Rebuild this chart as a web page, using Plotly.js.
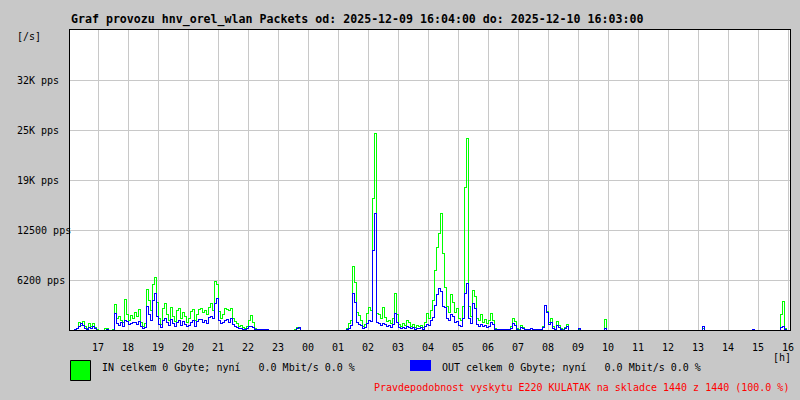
<!DOCTYPE html>
<html>
<head>
<meta charset="utf-8">
<script src="https://cdn.plot.ly/plotly-3.0.1.min.js"></script>
<style>
html,body{margin:0;padding:0;background:#c8c8c8;}
#chart{width:800px;height:400px;}
#chart .scatterlayer path{shape-rendering:crispEdges;}
#chart .gridlayer path{shape-rendering:crispEdges;}
</style>
</head>
<body>
<div id="chart"></div>
<script>
// Sampling: one value every 4 minutes starting 2025-12-09 16:04
const startTime = '2025-12-09T16:04:00Z';
const endTime = '2025-12-10T16:04:00Z';
const stepMinutes = 4;

// IN packets per second
const inPps = [
  0,0,125,250,1000,625,1125,500,250,875,
  500,875,375,125,0,0,0,250,250,0,
  0,125,3250,1500,1750,1250,1000,3875,2000,1250,
  1875,1500,2250,1750,2625,1000,500,875,5125,3750,
  2500,5750,6625,3500,1500,750,2750,3375,2000,1250,
  2875,1750,1125,2500,2750,1500,2250,1750,1000,1500,
  2375,2625,1250,2000,2625,2750,2250,2500,2000,2875,
  3375,2500,6125,5750,2375,1500,2000,2750,2625,2500,
  2750,1500,1125,875,500,625,375,250,500,1250,
  1875,1000,250,125,125,125,125,125,125,0,
  0,0,0,0,0,0,0,0,0,0,
  0,0,125,375,250,0,0,0,0,0,
  0,0,0,0,0,0,0,0,0,0,
  0,0,0,0,0,0,0,0,250,875,
  1250,8000,6000,2250,1875,1250,500,750,2125,2875,
  2500,16500,24625,2125,2000,1500,2875,1625,1125,1250,
  875,1500,4625,2000,750,500,875,625,1250,1000,
  500,750,375,625,500,625,375,1000,2125,1500,
  2500,3750,7500,10375,12125,14625,9625,5375,3000,2250,
  4500,3500,2250,2750,1500,1250,3000,17875,24000,3000,
  1750,5000,4250,1500,1250,2000,1000,1375,875,1250,
  2125,1250,250,125,125,125,125,125,125,125,
  500,1500,1125,250,125,625,375,125,125,125,
  250,125,125,125,125,125,500,3125,2375,1000,
  1500,500,125,1125,625,250,125,375,750,0,
  0,0,0,0,125,0,0,0,0,0,
  0,0,0,0,0,0,0,1375,0,0,
  0,0,0,0,0,0,0,0,0,0,
  0,0,0,0,0,0,0,0,0,0,
  0,0,0,0,0,0,0,0,0,0,
  0,0,0,0,0,0,0,0,0,0,
  0,0,0,0,0,0,250,0,0,0,
  0,0,0,0,0,0,0,0,0,0,
  0,0,0,0,0,0,0,0,0,0,
  0,0,0,0,0,0,0,0,0,0,
  0,0,0,0,0,2000,3625,250,0,0
];

// OUT packets per second
const outPps = [
  0,0,125,250,500,875,625,250,125,375,
  250,500,250,0,0,0,0,0,125,0,
  0,0,2125,875,625,1000,500,1250,1125,750,
  875,1000,1000,750,1125,500,250,375,3000,2000,
  1250,3750,4625,1750,750,375,1250,1500,1000,625,
  1375,875,500,1000,1250,625,1125,750,500,625,
  1000,1250,500,1125,1375,1375,1000,1250,875,1625,
  1750,1500,3375,4000,1250,875,1000,1250,1375,1000,
  1500,750,500,375,250,250,125,125,250,500,
  500,375,125,125,125,125,125,125,125,0,
  0,0,0,0,0,0,0,0,0,0,
  0,0,0,250,375,0,0,0,0,0,
  0,0,0,0,0,0,0,0,0,0,
  0,0,0,0,0,0,0,0,125,250,
  625,4625,3500,1000,750,625,250,375,875,1250,
  1125,10000,14625,1000,875,625,875,750,500,625,
  375,750,2125,1000,375,250,375,250,500,375,
  250,375,125,250,250,375,125,500,750,625,
  1250,1625,3125,4500,5250,4875,3000,2875,1500,1250,
  2000,1750,1000,1125,625,500,1500,4625,5875,1500,
  875,3375,2750,750,500,750,500,625,375,500,
  1000,750,125,125,125,125,125,125,125,125,
  250,875,625,125,0,375,250,125,125,125,
  250,125,125,125,125,125,375,3125,2250,750,
  1000,250,125,625,375,125,0,250,500,0,
  0,0,0,0,250,0,0,0,0,0,
  0,0,0,0,0,0,0,250,0,0,
  0,0,0,0,0,0,0,0,0,0,
  0,0,0,0,0,0,0,0,0,0,
  0,0,0,0,0,0,0,0,0,0,
  0,0,0,0,0,0,0,0,0,0,
  0,0,0,0,0,0,500,0,0,0,
  0,0,0,0,0,0,0,0,0,0,
  0,0,0,0,0,0,0,0,0,0,
  0,125,0,0,0,0,0,0,0,0,
  0,0,0,0,0,375,500,125,0,0
];

const yTickVals = [6250, 12500, 18750, 25000, 31250];
const yTickText = ['6200 pps', '12500 pps', '19K pps', '25K pps', '32K pps'];

const titleText = 'Graf provozu hnv_orel_wlan Packets od: 2025-12-09 16:04:00 do: 2025-12-10 16:03:00';
const inLegend = 'IN celkem 0 Gbyte; nyní   0.0 Mbit/s 0.0 %';
const outLegend = 'OUT celkem 0 Gbyte; nyní   0.0 Mbit/s 0.0 %';
const footText = 'Pravdepodobnost vyskytu E220 KULATAK na skladce 1440 z 1440 (100.0 %)';

const base = Date.parse(startTime);
const times = inPps.map((_, i) =>
  new Date(base + i * stepMinutes * 60000).toISOString().slice(0, 19).replace('T', ' '));
const fmt = s => s.slice(0, 19).replace('T', ' ').replace('Z', '');

const mono = 'DejaVu Sans Mono, Liberation Mono, monospace';

const traces = [
  {x: times, y: inPps, type: 'scatter', mode: 'lines',
   line: {color: '#00ff00', width: 1, shape: 'hv'}, hoverinfo: 'skip', showlegend: false},
  {x: times, y: outPps, type: 'scatter', mode: 'lines',
   line: {color: '#0000ff', width: 1, shape: 'hv'}, hoverinfo: 'skip', showlegend: false}
];

// pixel helpers for paper coords (plot area 70..790 x 30..330)
const px = v => (v - 70) / 720;
const py = v => (330 - v) / 300;

const annotations = [
  {text: '<b>' + titleText + '</b>', xref: 'paper', yref: 'paper', x: px(69), y: py(19),
   xanchor: 'left', yanchor: 'middle', showarrow: false, font: {family: mono, size: 11.6, color: '#000'}},
  {text: '[/s]', xref: 'paper', yref: 'paper', x: px(15), y: py(37),
   xanchor: 'left', yanchor: 'middle', showarrow: false, font: {family: mono, size: 10, color: '#000'}},
  {text: '[h]', xref: 'paper', yref: 'paper', x: px(771), y: py(357),
   xanchor: 'left', yanchor: 'middle', showarrow: false, font: {family: mono, size: 10, color: '#000'}},
  {text: inLegend.replace(/ /g, '&nbsp;'), xref: 'paper', yref: 'paper', x: px(100), y: py(367),
   xanchor: 'left', yanchor: 'middle', showarrow: false, font: {family: mono, size: 10, color: '#000'}},
  {text: outLegend.replace(/ /g, '&nbsp;'), xref: 'paper', yref: 'paper', x: px(440), y: py(367),
   xanchor: 'left', yanchor: 'middle', showarrow: false, font: {family: mono, size: 10, color: '#000'}},
  {text: footText, xref: 'paper', yref: 'paper', x: px(791), y: py(387),
   xanchor: 'right', yanchor: 'middle', showarrow: false, font: {family: mono, size: 10, color: '#ff0000'}}
];
yTickVals.forEach((v, i) => annotations.push({
  text: yTickText[i], xref: 'paper', yref: 'y', x: px(15), y: v,
  xanchor: 'left', yanchor: 'middle', showarrow: false, font: {family: mono, size: 10, color: '#000'}
}));

const shapes = [
  {type: 'rect', xref: 'paper', yref: 'paper', x0: px(70.5), x1: px(90.5), y0: py(360.5), y1: py(380.5),
   fillcolor: '#00ff00', line: {color: '#000', width: 1}},
  {type: 'rect', xref: 'paper', yref: 'paper', x0: px(410), x1: px(431), y0: py(360), y1: py(371),
   fillcolor: '#0000ff', line: {width: 0}}
];

const layout = {
  width: 800, height: 400,
  margin: {l: 70, r: 10, t: 30, b: 70, pad: 0},
  paper_bgcolor: '#c8c8c8',
  plot_bgcolor: '#ffffff',
  showlegend: false,
  xaxis: {
    type: 'date',
    range: [fmt(startTime), fmt(endTime)],
    tick0: '2025-12-09 17:00:00', dtick: 3600000, tickformat: '%H',
    showgrid: true, gridcolor: '#c8c8c8', gridwidth: 1,
    showline: true, linecolor: '#000', linewidth: 1, mirror: true,
    ticks: '', zeroline: false, ticklabelstandoff: 8,
    tickfont: {family: mono, size: 10, color: '#000'},
    fixedrange: true
  },
  yaxis: {
    range: [0, 37500],
    tickvals: yTickVals, ticktext: yTickText, showticklabels: false,
    showgrid: true, gridcolor: '#c8c8c8', gridwidth: 1,
    showline: true, linecolor: '#000', linewidth: 1, mirror: true,
    ticks: '', zeroline: false, fixedrange: true
  },
  annotations: annotations,
  shapes: shapes
};

Plotly.newPlot('chart', traces, layout, {staticPlot: true, displayModeBar: false});
</script>
</body>
</html>
